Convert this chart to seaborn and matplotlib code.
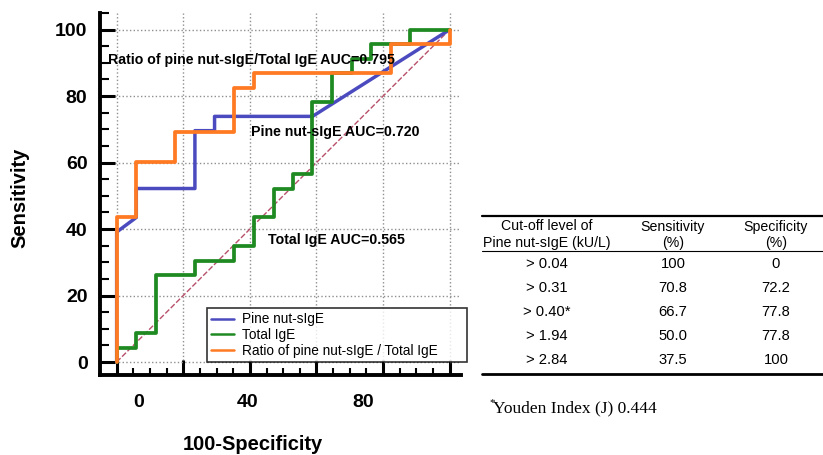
import matplotlib
matplotlib.use("Agg")
import matplotlib.pyplot as plt
from matplotlib.lines import Line2D
from matplotlib.ticker import MultipleLocator
import seaborn as sns
import pandas as pd

# ---------------- data ----------------
fpr_sige = [0, 0, 5.9, 5.9, 23.5, 23.5, 29.4, 29.4, 58.8, 100]
sens_sige = [0, 39.1, 43.5, 52.2, 52.2, 69.6, 69.6, 73.9, 73.9, 100]

fpr_total = [0, 0, 5.9, 5.9, 11.8, 11.8, 23.5, 23.5, 35.3, 35.3, 41.2, 41.2, 47.1, 47.1,
             52.9, 52.9, 58.8, 58.8, 64.7, 64.7, 70.6, 70.6, 76.5, 76.5, 88.2, 88.2, 100]
sens_total = [0, 4.3, 4.3, 8.7, 8.7, 26.1, 26.1, 30.4, 30.4, 34.8, 34.8, 43.5, 43.5, 52.2,
              52.2, 56.5, 56.5, 78.3, 78.3, 87.0, 87.0, 91.3, 91.3, 95.7, 95.7, 100, 100]

fpr_ratio = [0, 0, 5.9, 5.9, 17.6, 17.6, 35.3, 35.3, 41.2, 41.2, 82.4, 82.4, 100, 100]
sens_ratio = [0, 43.5, 43.5, 60.2, 60.2, 69.3, 69.3, 82.5, 82.5, 86.8, 86.8, 95.7, 95.7, 100]

series_names = ["Pine nut-sIgE", "Total IgE", "Ratio of pine nut-sIgE / Total IgE"]
series_colors = ["#4b4bbf", "#1f8a22", "#ff7a22"]

auc_labels = ["Pine nut-sIgE AUC=0.720", "Total IgE AUC=0.565",
              "Ratio of pine nut-sIgE/Total IgE AUC=0.795"]

y_ticks = [0, 20, 40, 60, 80, 100]
x_tick_labels = ["0", "40", "80"]
x_tick_label_pos = [6.7, 39.3, 73.9]

table_header1 = ["Cut-off level of", "Sensitivity", "Specificity"]
table_header2 = ["Pine nut-sIgE (kU/L)", "(%)", "(%)"]
cutoffs = ["> 0.04", "> 0.31", "> 0.40*", "> 1.94", "> 2.84"]
sensitivity = ["100", "70.8", "66.7", "50.0", "37.5"]
specificity = ["0", "72.2", "77.8", "77.8", "100"]
footnote = "Youden Index (J) 0.444"

# ---------------- styling ----------------
sns.set_style("ticks")
plt.rcParams["font.family"] = ["Liberation Sans", "DejaVu Sans"]
plt.rcParams["text.color"] = "black"
plt.rcParams["axes.labelcolor"] = "black"
plt.rcParams["xtick.color"] = "black"
plt.rcParams["ytick.color"] = "black"

W, H = 823, 455
fig = plt.figure(figsize=(W / 100, H / 100), dpi=100)
ax = fig.add_axes([100 / W, (H - 375) / H, 361 / W, 362 / H])

frames = []
for name, xs, ys in zip(series_names, [fpr_sige, fpr_total, fpr_ratio],
                        [sens_sige, sens_total, sens_ratio]):
    frames.append(pd.DataFrame({"x": xs, "y": ys, "series": name, "order": range(len(xs))}))
df = pd.concat(frames, ignore_index=True)

# reference diagonal
ax.plot([0, 100], [0, 100], color="#b8506a", lw=1.0, ls=(0, (4, 1.5)), zorder=2)

for name, col, lw, z in zip(series_names, series_colors, [2.5, 2.7, 2.7], [3, 4, 5]):
    sub = df[df["series"] == name]
    sns.lineplot(data=sub, x="x", y="y", sort=False, estimator=None, color=col,
                 linewidth=lw, ax=ax, legend=False, zorder=z)

ax.set_xlim(-5.0, 103.4)
ax.set_ylim(-3.9, 105)
ax.set_xlabel("")
ax.set_ylabel("")

ax.set_xticks([0, 20, 40, 60, 80, 100])
ax.set_xticklabels([])
ax.set_yticks(y_ticks)
ax.set_yticklabels([str(v) for v in y_ticks], fontsize=14, fontweight="bold")
ax.xaxis.set_minor_locator(MultipleLocator(5))
ax.yaxis.set_minor_locator(MultipleLocator(5))
ax.tick_params(which="both", bottom=True, left=True, top=False, right=False)
ax.tick_params(which="major", direction="in", length=11, width=2.2, color="black", pad=9)
ax.tick_params(which="minor", direction="in", length=6.5, width=1.5, color="black")
ax.tick_params(axis="x", which="minor", length=5)

ax.grid(True, which="major", ls=":", color="#8f8f8f", lw=1.0)
for s in ["top", "right"]:
    ax.spines[s].set_visible(False)
for s in ["left", "bottom"]:
    ax.spines[s].set_linewidth(2.8)
    ax.spines[s].set_color("black")

for lab, xp in zip(x_tick_labels, x_tick_label_pos):
    ax.text(xp, -0.077, lab, transform=ax.get_xaxis_transform(), ha="center", va="center",
            fontsize=14, fontweight="bold", clip_on=False)

# AUC annotations
ax.text(40.2, 69.1, auc_labels[0], fontsize=10.2, fontweight="bold", va="center", ha="left", zorder=6)
ax.text(45.5, 36.7, auc_labels[1], fontsize=10.2, fontweight="bold", va="center", ha="left", zorder=6)
ax.text(-2.5, 90.8, auc_labels[2], fontsize=10.2, fontweight="bold", va="center", ha="left", zorder=6)

# legend
handles = [Line2D([0], [0], color=c, lw=1.8) for c in series_colors]
leg = fig.legend(handles, series_names, loc="lower left",
                 bbox_to_anchor=(206.7 / W, (H - 361.7) / H, 260 / W, 60 / H), mode="expand",
                 frameon=True, fancybox=False, edgecolor="black", fontsize=9.8,
                 handlelength=1.7, handletextpad=0.6, labelspacing=0.12, borderpad=0.3,
                 borderaxespad=0)
leg.get_frame().set_linewidth(1.2)

# axis titles
fig.text(20 / W, 1 - 198 / H, "Sensitivity", rotation=90, ha="center", va="center",
         fontsize=14.5, fontweight="bold")
fig.text(253 / W, 1 - 445 / H, "100-Specificity", ha="center", va="center",
         fontsize=14.5, fontweight="bold")

# ---------------- table ----------------
def fx(px):
    return px / W


def fy(py):
    return 1 - py / H


fig.add_artist(Line2D([fx(481.7), fx(823)], [fy(215.7), fy(215.7)], color="black", lw=1.6))
fig.add_artist(Line2D([fx(481.7), fx(823)], [fy(251), fy(251)], color="black", lw=0.8))
fig.add_artist(Line2D([fx(481.7), fx(823)], [fy(374), fy(374)], color="black", lw=2.0))

col_x = [547, 673, 776]
for cx, h1, h2 in zip(col_x, table_header1, table_header2):
    fig.text(fx(cx), fy(226.5), h1, ha="center", va="center", fontsize=10.2)
    fig.text(fx(cx), fy(243), h2, ha="center", va="center", fontsize=10.2)

row_y = [263.5, 287.5, 312, 336, 360]
for ry, c, se, sp in zip(row_y, cutoffs, sensitivity, specificity):
    fig.text(fx(col_x[0]), fy(ry), c, ha="center", va="center", fontsize=10.6)
    fig.text(fx(col_x[1]), fy(ry), se, ha="center", va="center", fontsize=10.6)
    fig.text(fx(col_x[2]), fy(ry), sp, ha="center", va="center", fontsize=10.6)

fig.text(fx(489), fy(403), "*", ha="left", va="center", fontsize=8,
         family=["Liberation Serif", "DejaVu Serif"])
fig.text(fx(493), fy(408), footnote, ha="left", va="center", fontsize=12.5,
         family=["Liberation Serif", "DejaVu Serif"])

fig.savefig("out.png", dpi=100)
